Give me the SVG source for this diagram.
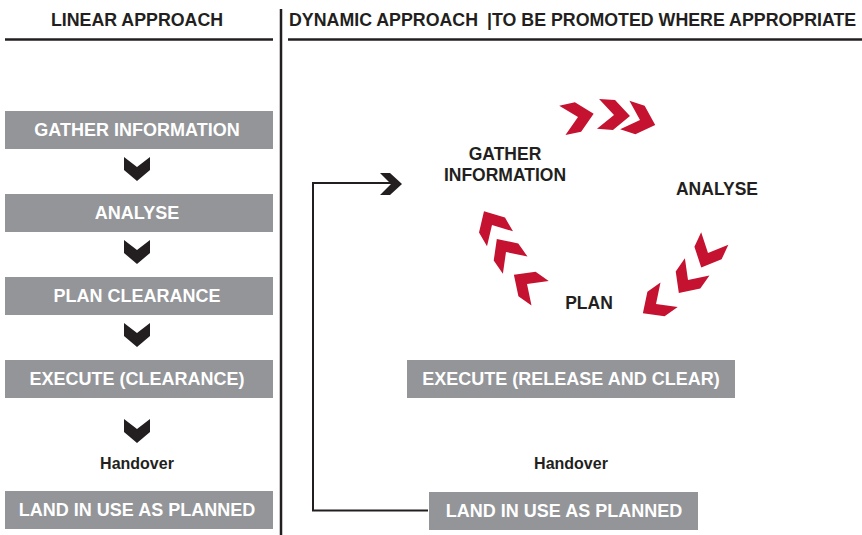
<svg xmlns="http://www.w3.org/2000/svg" width="862" height="535" viewBox="0 0 862 535">
<defs>
<style>
.t{font-family:"Liberation Sans",Arial,sans-serif;font-weight:bold;text-anchor:middle}
.st{text-anchor:start}
.hd{font-size:17.8px;fill:#231f20}
.bx{font-size:18px;fill:#ffffff}
.lb{font-size:17.5px;fill:#231f20}
.ho{font-size:16px;fill:#231f20}
.box{fill:#939598}
.rule{stroke:#231f20;stroke-width:2.5;fill:none}
.conn{stroke:#231f20;stroke-width:2;fill:none}
.blk{fill:#231f20}
.red{fill:#c41230}
</style>
<polygon id="dn" points="-13,0 0,10 13,0 13,13 0,24 -13,13"/>
<polygon id="rc" points="-16,-15 0,-15 16,0 0,15 -16,15 0,0"/>
</defs>
<rect width="862" height="535" fill="#ffffff"/>

<g id="headers">
<text class="t hd" x="137" y="26">LINEAR APPROACH</text>
<text class="t hd st" x="289" y="26">DYNAMIC APPROACH</text>
<text class="t hd st" x="487" y="26">|TO BE PROMOTED WHERE APPROPRIATE</text>
<line class="rule" x1="5" y1="39.5" x2="273" y2="39.5"/>
<line class="rule" x1="288" y1="39.5" x2="862" y2="39.5"/>
<line class="rule" x1="281" y1="9" x2="281" y2="535"/>
</g>

<g id="lin-gather"><rect class="box" x="5" y="111" width="268" height="38"/><text class="t bx" x="137" y="136">GATHER INFORMATION</text></g>
<g id="lin-analyse"><rect class="box" x="5" y="194" width="268" height="38"/><text class="t bx" x="137" y="219">ANALYSE</text></g>
<g id="lin-plan"><rect class="box" x="5" y="277" width="268" height="38"/><text class="t bx" x="137" y="302">PLAN CLEARANCE</text></g>
<g id="lin-execute"><rect class="box" x="5" y="360" width="268" height="38"/><text class="t bx" x="137" y="385">EXECUTE (CLEARANCE)</text></g>
<g id="lin-handover"><text class="t ho" x="137" y="469">Handover</text></g>
<g id="lin-land"><rect class="box" x="5" y="491" width="268" height="38"/><text class="t bx" x="137" y="516">LAND IN USE AS PLANNED</text></g>

<g id="dyn-gather"><text class="t lb" x="505" y="160">GATHER</text><text class="t lb" x="505" y="181">INFORMATION</text></g>
<g id="dyn-analyse"><text class="t lb" x="717" y="195">ANALYSE</text></g>
<g id="dyn-plan"><text class="t lb" x="589" y="309">PLAN</text></g>
<g id="dyn-execute"><rect class="box" x="407" y="360" width="328" height="38"/><text class="t bx" x="571" y="385">EXECUTE (RELEASE AND CLEAR)</text></g>
<g id="dyn-handover"><text class="t ho" x="571" y="469">Handover</text></g>
<g id="dyn-land"><rect class="box" x="429" y="492" width="269" height="38"/><text class="t bx" x="564" y="517">LAND IN USE AS PLANNED</text></g>

<g id="connectors">
<use href="#dn" class="blk" x="137" y="157"/>
<use href="#dn" class="blk" x="137" y="240"/>
<use href="#dn" class="blk" x="137" y="323"/>
<use href="#dn" class="blk" x="137" y="419"/>
<polyline class="conn" points="428,510.5 313,510.5 313,183 392,183"/>
<polygon class="blk" points="380,173 390,173 402,184 390,195 380,195 391,184"/>
<use href="#rc" class="red" transform="translate(578,117) rotate(-12)"/>
<use href="#rc" class="red" transform="translate(614,115) rotate(4)"/>
<use href="#rc" class="red" transform="translate(640,120) rotate(18)"/>
<use href="#rc" class="red" transform="translate(708,253) rotate(115)"/>
<use href="#rc" class="red" transform="translate(688,280) rotate(125)"/>
<use href="#rc" class="red" transform="translate(656,304) rotate(145)"/>
<use href="#rc" class="red" transform="translate(527,284) rotate(-145)"/>
<use href="#rc" class="red" transform="translate(506,252) rotate(-125)"/>
<use href="#rc" class="red" transform="translate(492,225) rotate(-120)"/>
</g>
</svg>
